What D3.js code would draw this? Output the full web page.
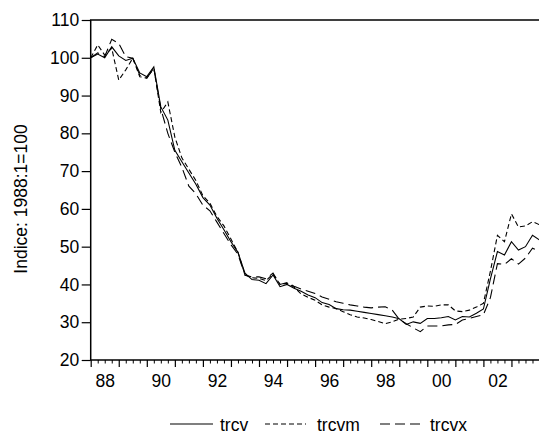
<!DOCTYPE html>
<html>
<head>
<meta charset="utf-8">
<script src="https://cdn.jsdelivr.net/npm/d3@7"></script>
<style>
  html, body { margin: 0; padding: 0; background: #fff; }
  svg { display: block; }
  text { font-family: "Liberation Sans", Arial, sans-serif; fill: #000; }
</style>
</head>
<body>
<svg id="chart" width="539" height="441"></svg>
<script>
// Quarterly real exchange rate indices, 1988:1 = 100 (1988Q1 .. 2004Q1)
const startYear = 1988;
const trcv = [
  100, 101, 100, 102.9, 100.5, 99.3, 99.9, 96, 95, 97.6,
  87, 83.5, 75.5, 72.5, 69.5, 66.5, 63, 61, 57.5, 54.5,
  51.3, 48.5, 43, 41.3, 41.1, 40.2, 42.5, 39.4, 40, 39,
  38.2, 37.2, 36.5, 35.2, 34.7, 33.6, 33.3, 33.2, 32.9, 32.6,
  32.3, 32.0, 31.7, 31.4, 30.9, 29.4, 30.1, 29.7, 31, 31,
  31.2, 31.5, 30.6, 31.5, 31.4, 32.4, 33.5, 41.5, 48.7, 47.8,
  51.3, 49.1, 50, 53, 51.8
];
const trcvm = [
  100, 103.4, 100.7, 102.5, 94.1, 96.8, 99.9, 95, 94.6, 97.3,
  85.5, 88.3, 79, 73.5, 70.5, 67.5, 63.5, 61.5, 58, 55.5,
  52, 48.5, 42.5, 41.8, 41.6, 41, 42.8, 40, 40.3, 39.3,
  37.5, 36.6, 35.8, 34.6, 34, 33.6, 32.8, 32, 31.4, 31.1,
  30.7, 30.2, 29.6, 30.1, 30.8, 31, 31.4, 34, 34.3, 34.2,
  34.6, 34.6, 33, 32.8, 33.2, 34, 35, 43.5, 53, 51.3,
  58.7, 55.2, 55.5, 56.6, 55.8
];
const trcvx = [
  100, 101.3, 100.3, 104.9, 103.8, 100.3, 99.9, 95.4, 94.6, 97.2,
  86.5, 80, 75, 71, 66, 64, 61, 59.5, 56.5, 53.5,
  50.5, 48, 42.5, 42, 42, 41.5, 43, 40, 40.5, 39.5,
  38.8, 38.2, 37.6, 36.7, 36.1, 35.4, 35, 34.6, 34.3, 34.0,
  33.8, 34.0, 34.1, 33.2, 30.8, 29.6, 28.5, 27.5, 29, 29,
  29, 29.3, 29.4, 30.6, 31, 31.5, 32, 36.5, 45.5, 45.3,
  46.8, 45.4, 47, 49.6, 48.7
];
const yTicks = [20, 30, 40, 50, 60, 70, 80, 90, 100, 110];
const xLabelYears = [1988, 1990, 1992, 1994, 1996, 1998, 2000, 2002];
const seriesNames = ["trcv", "trcvm", "trcvx"];

const svg = d3.select("#chart");
const plotL = 90.7, plotR = 539.5, plotT = 20, plotB = 360;
const fontSize = 17.5;

const x = d3.scaleLinear().domain([1988, 2004]).range([plotL, plotR]);
const y = d3.scaleLinear().domain([20, 110]).range([plotB, plotT]);

const dashes = { trcv: null, trcvm: "5,3", trcvx: "10,5" };
const data = { trcv, trcvm, trcvx };

// plot frame (right side runs past the canvas edge)
svg.append("path")
  .attr("d", `M${plotR + 3},${plotT}H${plotL}V${plotB}H${plotR + 3}`)
  .attr("fill", "none").attr("stroke", "#000").attr("stroke-width", 1.5);

// y axis
const yAxis = svg.append("g")
  .attr("transform", `translate(${plotL},0)`)
  .call(d3.axisLeft(y).tickValues(yTicks).tickSize(9).tickPadding(2.5).tickFormat(d3.format("d")));
yAxis.select(".domain").remove();
yAxis.selectAll("line").attr("stroke-width", 1.2);
yAxis.selectAll("text").attr("font-size", fontSize).attr("font-family", "Liberation Sans, Arial, sans-serif");

// x axis: year ticks, quarter ticks, labels centred in the year
const years = d3.range(1988, 2005);
const quarters = d3.range(0, 64).map(i => startYear + i / 4).filter(t => t % 1 !== 0);
const xMajor = svg.append("g").attr("transform", `translate(0,${plotB})`)
  .call(d3.axisBottom(x).tickValues(years).tickSize(7).tickFormat(""));
xMajor.select(".domain").remove();
xMajor.selectAll("line").attr("stroke-width", 1.2);
const xMinor = svg.append("g").attr("transform", `translate(0,${plotB})`)
  .call(d3.axisBottom(x).tickValues(quarters).tickSize(3.5).tickFormat(""));
xMinor.select(".domain").remove();
const xLab = svg.append("g").attr("transform", `translate(0,${plotB})`)
  .call(d3.axisBottom(x).tickValues(xLabelYears.map(v => v + 0.5)).tickSize(0).tickPadding(15)
    .tickFormat(d => String(Math.floor(d) % 100).padStart(2, "0")));
xLab.select(".domain").remove();
xLab.selectAll("text").attr("font-size", fontSize).attr("font-family", "Liberation Sans, Arial, sans-serif");

// y axis title
svg.append("text")
  .attr("transform", `translate(27,${(plotT + plotB) / 2 + 9}) rotate(-90)`)
  .attr("text-anchor", "middle")
  .attr("font-size", fontSize)
  .text("Indice: 1988:1=100");

// series lines
const line = d3.line()
  .x((d, i) => x(startYear + i / 4))
  .y(d => y(d));

svg.append("defs").append("clipPath").attr("id", "plot")
  .append("rect").attr("x", plotL).attr("y", plotT).attr("width", plotR - plotL + 2).attr("height", plotB - plotT);

const lines = svg.append("g").attr("clip-path", "url(#plot)");
seriesNames.forEach(name => {
  lines.append("path")
    .datum(data[name])
    .attr("d", line)
    .attr("fill", "none")
    .attr("stroke", "#000")
    .attr("stroke-width", 1.1)
    .attr("stroke-dasharray", dashes[name]);
});

// legend
const legendItems = [
  { name: "trcv", x0: 170, x1: 213, tx: 220 },
  { name: "trcvm", x0: 265, x1: 306, tx: 317 },
  { name: "trcvx", x0: 380, x1: 424, tx: 430 }
];
const legend = svg.append("g");
legendItems.forEach(it => {
  legend.append("line")
    .attr("x1", it.x0).attr("x2", it.x1).attr("y1", 424).attr("y2", 424)
    .attr("stroke", "#000").attr("stroke-width", 1.1)
    .attr("stroke-dasharray", dashes[it.name]);
  legend.append("text")
    .attr("x", it.tx).attr("y", 430.5)
    .attr("font-size", fontSize)
    .text(it.name);
});
</script>
</body>
</html>
